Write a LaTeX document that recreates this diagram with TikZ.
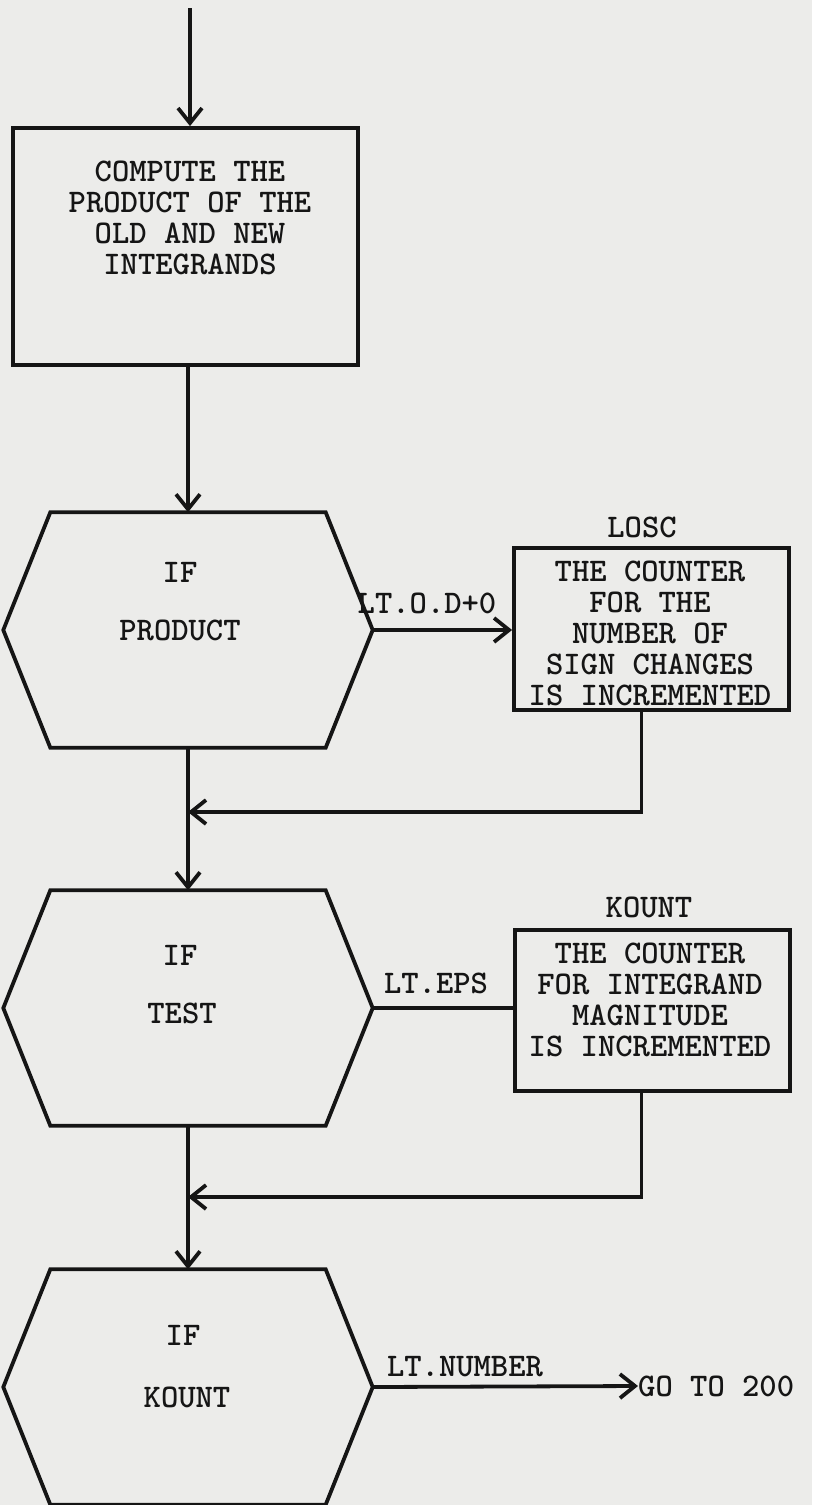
\documentclass[tikz,border=0pt]{standalone}
\usepackage{fontspec}
\newfontfamily\typefont{lmmonolt10-bold}[Extension=.otf]
\usetikzlibrary{arrows.meta}
\definecolor{Paper}{HTML}{ECECEA}
\definecolor{Ink}{HTML}{151515}

\begin{document}
\begin{tikzpicture}[x=1pt,y=-1pt,
    blk/.style={draw=Ink,line width=3.8pt,inner sep=0pt},
    hexa/.style={inner sep=0pt,minimum width=369pt,minimum height=235pt},
    txt/.style={font=\typefont\fontsize{33}{31}\selectfont,text=Ink,
                align=center,inner sep=0pt},
    flow/.style={draw=Ink,line width=3.8pt},
    arr/.style={flow,-{Straight Barb[length=15pt,width=24pt]}}
  ]
  \fill[Paper] (0,0) rectangle (812,1505);
  \useasboundingbox (0,0) rectangle (812,1505);

  % product of the integrands
  \node[blk,minimum width=345pt,minimum height=237pt] (comp) at (185.5,246.5) {};
  \node[txt] (comptxt) at (190,217.5) {COMPUTE THE\\PRODUCT OF THE\\OLD AND NEW\\INTEGRANDS};

  % first test and LOSC
  \node[hexa] (ifprod) at (188,630) {};
  \node[txt] (if1) at (180,572) {IF};
  \node[txt] (prod) at (180,630) {PRODUCT};
  \node[blk,minimum width=275pt,minimum height=162pt] (losc) at (651.5,629) {};
  \node[txt] (losctxt) at (650,633.5) {THE COUNTER\\FOR THE\\NUMBER OF\\SIGN CHANGES\\IS INCREMENTED};
  \node[txt] (losclbl) at (642,527) {LOSC};
  \node[txt] (lt1) at (427,603) {LT.O.D+0};

  % second test and KOUNT
  \node[hexa] (iftest) at (188,1008) {};
  \node[txt] (if2) at (180,955) {IF};
  \node[txt] (test) at (182,1013) {TEST};
  \node[blk,minimum width=275pt,minimum height=161pt] (kount) at (652.5,1010.5) {};
  \node[txt] (kounttxt) at (650,1000) {THE COUNTER\\FOR INTEGRAND\\MAGNITUDE\\IS INCREMENTED};
  \node[txt] (kountlbl) at (649,907) {KOUNT};
  \node[txt] (lt2) at (436,983) {LT.EPS};

  % third test
  \node[hexa] (ifkount) at (188,1387) {};
  \node[txt] (if3) at (183,1335) {IF};
  \node[txt] (kountv) at (187,1397) {KOUNT};
  \node[txt] (lt3) at (465,1367) {LT.NUMBER};
  \node[txt,anchor=west] (goto) at (638,1386) {GO TO 200};

  % hexagon outlines
  \foreach \h in {ifprod,iftest,ifkount}
    \draw[flow,line join=miter] ([xshift=47pt]\h.north west) -- ([xshift=-47pt]\h.north east)
      -- (\h.east) -- ([xshift=-47pt]\h.south east) -- ([xshift=47pt]\h.south west)
      -- (\h.west) -- cycle;

  % connectors
  \coordinate (entry) at (190,8);
  \coordinate (join1) at (188,812);
  \coordinate (join2) at (188,1197);
  \draw[arr] (entry) -- (entry |- comp.north);
  \draw[arr] (ifprod.north |- comp.south) -- (ifprod.north);
  \draw[arr] (ifprod.east) -- (ifprod.east -| losc.west);
  \draw[arr] ([xshift=-10pt]losc.south) |- (join1);
  \draw[arr] (ifprod.south) -- (iftest.north);
  \draw[flow] (iftest.east) -- (iftest.east -| kount.west);
  \draw[arr] ([xshift=-11pt]kount.south) |- (join2);
  \draw[arr] (iftest.south) -- (ifkount.north);
  \draw[arr] (ifkount.east) -- (goto.west);
\end{tikzpicture}
\end{document}
